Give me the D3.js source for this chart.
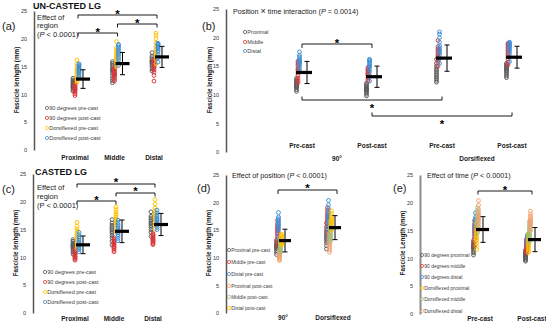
<!DOCTYPE html>
<html>
<head>
<meta charset="utf-8">
<script src="https://cdn.jsdelivr.net/npm/d3@7/dist/d3.min.js"></script>
<style>
  body { margin: 0; background: #fff; }
</style>
</head>
<body>
<div id="chart"></div>
<script>
// categories / labels
var regions = ["Proximal", "Middle", "Distal"];
var castTimes = ["Pre-cast", "Post-cast", "Pre-cast", "Post-cast"];
var positions = ["90°", "Dorsiflexed"];
var times = ["Pre-cast", "Post-cast"];
var yTicks = [0, 5, 10, 15, 20, 25];

// un-casted LG, fascicle length (mm), each = [proximal, middle, distal]
var un90Pre = [
	[10.6, 10.9, 11.2, 11.4, 11.6, 11.8, 12.0, 12.2, 12.4, 12.6, 12.9, 11.5],
	[12.1, 12.5, 12.9, 13.4, 13.8, 14.2, 14.6, 15.0, 15.3, 15.6, 15.9, 14.4],
	[14.2, 14.6, 15.0, 15.3, 15.6, 15.8, 16.0, 16.3, 16.6, 16.9, 17.5, 15.9]
];
var un90Post = [
	[9.8, 10.1, 10.4, 10.6, 10.8, 11.0, 11.2, 11.4, 11.6, 11.8, 12.0, 10.9],
	[12.4, 12.7, 13.0, 13.3, 13.5, 13.7, 13.9, 14.1, 14.3, 14.5, 14.8, 13.6],
	[12.4, 13.4, 14.0, 14.4, 14.8, 15.1, 15.4, 15.7, 15.9, 16.1, 16.2, 15.0]
];
var unDorsiPre = [
	[12.2, 12.5, 12.8, 13.1, 13.4, 13.7, 14.0, 14.3, 14.6, 15.0, 15.5, 16.2],
	[15.0, 15.6, 16.0, 16.4, 16.8, 17.1, 17.4, 17.7, 18.0, 18.4, 19.5, 16.6],
	[15.5, 16.3, 16.9, 17.3, 17.6, 17.9, 18.2, 18.6, 19.2, 20.0, 20.6, 21.0]
];
var unDorsiPost = [
	[13.0, 13.3, 13.6, 13.9, 14.1, 14.3, 14.5, 14.7, 14.9, 15.1, 15.3, 15.5],
	[15.2, 15.7, 16.2, 16.6, 17.0, 17.3, 17.6, 17.9, 18.2, 18.5, 18.8, 19.0],
	[15.8, 16.6, 17.2, 17.6, 17.9, 18.2, 18.4, 18.6, 18.8, 19.0, 19.1, 19.2]
];

// casted LG
var ca90Pre = [
	[10.6, 11.0, 11.3, 11.6, 11.8, 12.0, 12.2, 12.4, 12.6, 12.9, 13.2, 12.1],
	[12.2, 12.9, 13.5, 13.9, 14.3, 14.6, 14.9, 15.2, 15.5, 15.8, 16.2, 16.8],
	[13.8, 14.5, 15.0, 15.4, 15.7, 16.0, 16.2, 16.5, 16.8, 17.1, 17.4, 18.2]
];
var ca90Post = [
	[9.5, 9.7, 9.9, 10.1, 10.2, 10.4, 10.5, 10.7, 10.9, 11.0, 11.2, 11.5],
	[11.0, 11.3, 11.6, 11.8, 12.0, 12.2, 12.4, 12.6, 12.8, 13.0, 13.2, 13.5],
	[12.3, 12.5, 12.7, 12.9, 13.0, 13.2, 13.3, 13.5, 13.7, 13.9, 14.1, 14.3]
];
var caDorsiPre = [
	[11.6, 12.2, 12.7, 13.1, 13.4, 13.7, 14.0, 14.3, 14.7, 15.1, 15.6, 16.3],
	[14.6, 15.3, 15.8, 16.2, 16.6, 16.9, 17.2, 17.5, 17.8, 18.2, 18.6, 19.1],
	[15.1, 15.8, 16.3, 16.8, 17.1, 17.4, 17.7, 18.0, 18.4, 18.9, 19.6, 20.4]
];
var caDorsiPost = [
	[11.0, 11.4, 11.7, 12.0, 12.3, 12.6, 12.8, 13.1, 13.4, 13.7, 14.1, 14.5],
	[13.0, 13.4, 13.8, 14.1, 14.4, 14.7, 15.0, 15.3, 15.6, 15.9, 16.3, 16.7],
	[15.0, 15.4, 15.8, 16.1, 16.4, 16.6, 16.8, 17.0, 17.3, 17.6, 18.0, 18.5]
];

// legends
var legendA = ["90 degrees pre-cast", "90 degrees post-cast", "Dorsiflexed pre-cast", "Dorsiflexed post-cast"];
var legendB = ["Proximal", "Middle", "Distal"];
var legendD = ["Proximal pre-cast", "Middle pre-cast", "Distal pre-cast", "Proximal post-cast", "Middle post-cast", "Distal post-cast"];
var legendE = ["90 degrees proximal", "90 degrees middle", "90 degrees distal", "Dorsiflexed proximal", "Dorsiflexed middle", "Dorsiflexed distal"];

var GREY = "#595959", RED = "#d9383a", YEL = "#ffc000", BLUE = "#3b8ed8", ORA = "#f2a070", GRN = "#98c07a";
var font = "'Liberation Sans', Arial, sans-serif";

var svg = d3.select("#chart").append("svg")
	.attr("width", 546)
	.attr("height", 324)
	.style("font-family", font);

function txt(g, x, y, s, size, opts) {
	opts = opts || {};
	var t = g.append("text")
		.attr("x", x).attr("y", y)
		.attr("font-size", size)
		.attr("fill", opts.fill || "#1a1a1a")
		.attr("font-weight", opts.bold ? "bold" : "normal")
		.attr("text-anchor", opts.anchor || "start");
	if (opts.rotate) t.attr("transform", "rotate(-90," + x + "," + y + ")");
	if (opts.html) t.html(s); else t.text(s);
	return t;
}

function drawPanel(p) {
	var g = svg.append("g");
	var y = d3.scaleLinear().domain([0, 25]).range(p.yRange);
	var x = d3.scalePoint().domain(d3.range(p.cats.length)).range(p.xRange);

	var axis = d3.axisLeft(y).tickValues(yTicks).tickSize(0).tickSizeOuter(0).tickPadding(7);
	var ax = g.append("g")
		.attr("transform", "translate(" + p.axisX + ",0)")
		.call(axis);
	ax.select(".domain").attr("stroke", p.axisColor).attr("stroke-width", p.axisWidth);
	ax.selectAll("text").attr("font-size", 5.5).attr("fill", "#333").attr("font-family", font);

	txt(g, p.ylabX, p.ylabY, p.ylab, 6.3, {bold: true, anchor: "middle", rotate: true});

	// category labels
	p.cats.forEach(function (c, ci) {
		txt(g, x(ci), p.catY, c, 6.5, {bold: true, anchor: "middle"});
	});

	// points, means and SD
	p.cats.forEach(function (c, ci) {
		var all = [];
		p.colors.forEach(function (col, si) {
			var vals = p.values(ci, si);
			all = all.concat(vals);
			g.selectAll(null)
				.data(vals)
				.enter()
				.append("circle")
					.attr("cx", x(ci) + p.ptDx + p.offsets[si])
					.attr("cy", d => y(d))
					.attr("r", 1.9)
					.attr("fill", "none")
					.attr("stroke", col)
					.attr("stroke-width", 0.95);
		});
		var m = d3.mean(all), sd = d3.deviation(all);
		var ex = x(ci) + p.errDx;
		g.append("line").attr("x1", ex).attr("x2", ex)
			.attr("y1", y(m + sd)).attr("y2", y(m - sd))
			.attr("stroke", "#000").attr("stroke-width", 1);
		[m + sd, m - sd].forEach(function (v) {
			g.append("line").attr("x1", ex - 2.5).attr("x2", ex + 2.5)
				.attr("y1", y(v)).attr("y2", y(v))
				.attr("stroke", "#000").attr("stroke-width", 1);
		});
		g.append("line")
			.attr("x1", x(ci) + p.bar[0]).attr("x2", x(ci) + p.bar[1])
			.attr("y1", y(m)).attr("y2", y(m))
			.attr("stroke", "#000").attr("stroke-width", 3.2);
	});

	// legend
	p.legend.forEach(function (name, i) {
		var ly = p.legY[i];
		g.append("circle").attr("cx", p.legX).attr("cy", ly).attr("r", 1.6)
			.attr("fill", "none").attr("stroke", p.colors[i]).attr("stroke-width", 0.8);
		txt(g, p.legX + 2.2, ly + p.legSize * 0.35, name, p.legSize, {fill: "#404040"});
	});

	// significance brackets
	p.brackets.forEach(function (b) {
		var x1 = x(b.a) + (b.da || 0), x2 = x(b.b) + (b.db || 0);
		g.append("path")
			.attr("d", "M" + x1 + "," + (b.y + b.t) + "V" + b.y + "H" + x2 + "V" + (b.y + b.t))
			.attr("fill", "none").attr("stroke", "#000").attr("stroke-width", 0.9);
		txt(g, (x1 + x2) / 2, b.sy + 6.5, "*", 11.5, {bold: true, anchor: "middle", fill: "#000"});
	});

	txt(g, p.letter[0], p.letter[1], p.letter[2], 11, {fill: "#222"});
	return {g: g, x: x, y: y};
}

// (a) un-casted, by region
var pa = drawPanel({
	cats: regions, xRange: [75, 154], yRange: [150, 11], axisX: 34,
	axisColor: "#555", axisWidth: 1.5,
	ylab: "Fascicle lenhgth (mm)", ylabX: 19, ylabY: 80, catY: 160,
	colors: [GREY, RED, YEL, BLUE], offsets: [-3, -1, 1, 3], ptDx: 1, bar: [1, 15], errDx: 8,
	values: function (ci, si) { return [un90Pre, un90Post, unDorsiPre, unDorsiPost][si][ci]; },
	legend: legendA, legX: 47, legY: [108, 118, 128, 138], legSize: 5.5,
	brackets: [
		{a: 0, b: 2, da: 3, db: 3, y: 15, t: 3.5, sy: 11},
		{a: 1, b: 2, da: 3, db: 3, y: 24, t: 3.5, sy: 20.5},
		{a: 0, b: 1, da: 3, db: 3, y: 33, t: 3.5, sy: 29.5}
	],
	letter: [2, 30, "(a)"]
});
txt(pa.g, 33, 9, "UN-CASTED LG", 9, {bold: true, fill: "#111"});
txt(pa.g, 37, 19.5, "Effect of", 7.5);
txt(pa.g, 37, 28, "region", 7.5);
txt(pa.g, 37, 36.5, "(<tspan font-style='italic'>P</tspan> &lt; 0.0001)", 7.5, {html: true});

// (b) un-casted, position x time
var cellsB = [un90Pre, un90Post, unDorsiPre, unDorsiPost];
var pb = drawPanel({
	cats: castTimes, xRange: [302, 512], yRange: [152, 9], axisX: 226,
	axisColor: "#555", axisWidth: 1.5,
	ylab: "Fascicle lenhgth (mm)", ylabX: 212, ylabY: 80, catY: 148,
	colors: [GREY, RED, BLUE], offsets: [-1.5, 0, 1.5], ptDx: -4, bar: [-6, 10], errDx: 5,
	values: function (ci, si) { return cellsB[ci][si]; },
	legend: legendB, legX: 245, legY: [32, 42, 51], legSize: 5.5,
	brackets: [
		{a: 0, b: 1, y: 44, t: 4, sy: 40},
		{a: 0, b: 2, y: 100, t: -3.5, sy: 105},
		{a: 1, b: 3, y: 116, t: -3.5, sy: 121}
	],
	letter: [202, 30, "(b)"]
});
txt(pb.g, 233, 14, "Position <tspan font-size='9'>×</tspan> time interaction (<tspan font-style='italic'>P</tspan> = 0.0014)", 7.2, {html: true});
txt(pb.g, 337, 161, "90°", 6.5, {bold: true, anchor: "middle"});
txt(pb.g, 477, 161, "Dorsiflexed", 6.5, {bold: true, anchor: "middle"});

// (c) casted, by region
var pc = drawPanel({
	cats: regions, xRange: [75, 153], yRange: [313, 174], axisX: 33,
	axisColor: "#555", axisWidth: 1.5,
	ylab: "Fascicle lenhgth (mm)", ylabX: 18, ylabY: 243, catY: 321,
	colors: [GREY, RED, YEL, BLUE], offsets: [-3, -1, 1, 3], ptDx: 1, bar: [1, 15], errDx: 8,
	values: function (ci, si) { return [ca90Pre, ca90Post, caDorsiPre, caDorsiPost][si][ci]; },
	legend: legendA, legX: 45, legY: [272, 282, 292, 302], legSize: 5.5,
	brackets: [
		{a: 0, b: 2, da: 2, db: 2, y: 184, t: 3.5, sy: 179.5},
		{a: 1, b: 2, da: 2, db: 2, y: 193, t: 3.5, sy: 188.5},
		{a: 0, b: 1, da: 2, db: 2, y: 201, t: 3.5, sy: 197}
	],
	letter: [2, 193, "(c)"]
});
txt(pc.g, 35, 175, "CASTED LG", 9, {bold: true, fill: "#111"});
txt(pc.g, 37, 190, "Effect of", 7.5);
txt(pc.g, 37, 199, "region", 7.5);
txt(pc.g, 37, 208, "(P &lt; 0.0001)", 7.5, {html: true});

// (d) casted, effect of position
var preCells = [ca90Pre, caDorsiPre], postCells = [ca90Post, caDorsiPost];
drawPanel({
	cats: positions, xRange: [283, 333], yRange: [313, 175], axisX: 226,
	axisColor: "#555", axisWidth: 1.5,
	ylab: "Fascicle lenhgth (mm)", ylabX: 211, ylabY: 243, catY: 320,
	colors: [GREY, RED, BLUE, ORA, GRN, YEL], offsets: [-2.5, -1.5, -0.5, 0.5, 1.5, 2.5], ptDx: -4, bar: [-4, 8], errDx: 2,
	values: function (ci, si) { return si < 3 ? preCells[ci][si] : postCells[ci][si - 3]; },
	legend: legendD, legX: 229, legY: [250, 262, 274, 286, 297, 308], legSize: 5,
	brackets: [{a: 0, b: 1, da: -5, db: 4, y: 190, t: 4, sy: 185}],
	letter: [197, 192, "(d)"]
});
txt(svg, 232, 178, "Effect of position (<tspan font-style='italic'>P</tspan> &lt; 0.0001)", 7.2, {html: true});

// (e) casted, effect of time
var cells90 = [ca90Pre, ca90Post], cellsDorsi = [caDorsiPre, caDorsiPost];
drawPanel({
	cats: times, xRange: [480, 532], yRange: [314, 175], axisX: 420,
	axisColor: "#8c8c8c", axisWidth: 2,
	ylab: "Fascicle Length (mm)", ylabX: 405, ylabY: 243, catY: 321,
	colors: [GREY, RED, BLUE, YEL, GRN, ORA], offsets: [-2.5, -1.5, -0.5, 0.5, 1.5, 2.5], ptDx: -4, bar: [-4, 9], errDx: 3,
	values: function (ci, si) { return si < 3 ? cells90[ci][si] : cellsDorsi[ci][si - 3]; },
	legend: legendE, legX: 422, legY: [255, 266, 277, 288, 299, 311], legSize: 5,
	brackets: [{a: 0, b: 1, da: -2, y: 191, t: 3.5, sy: 187}],
	letter: [393, 192, "(e)"]
});
txt(svg, 427, 178, "Effect of time (<tspan font-style='italic'>P</tspan> &lt; 0.0001)", 7.2, {html: true});
</script>
</body>
</html>
